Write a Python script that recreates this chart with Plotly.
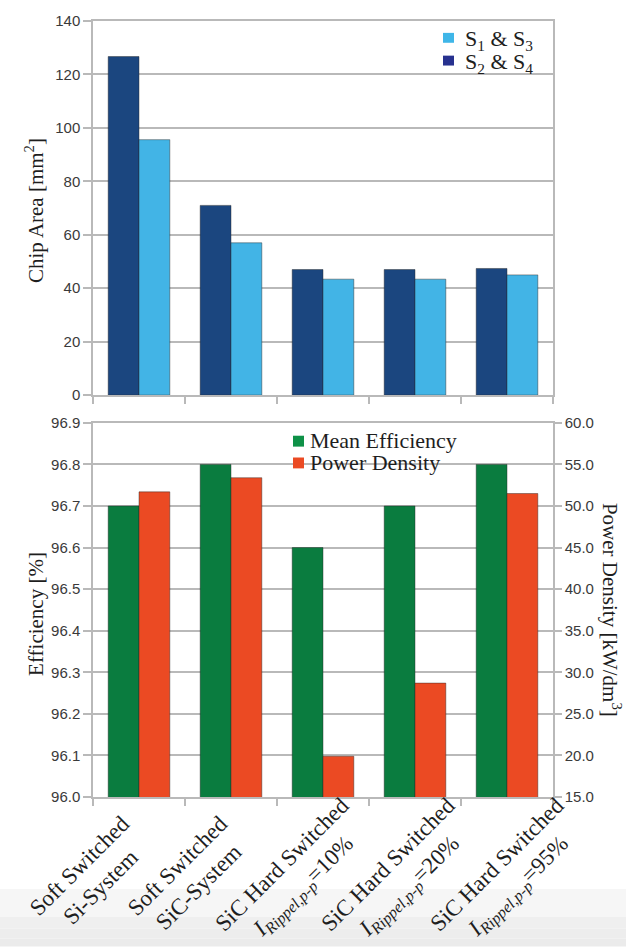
import plotly.graph_objects as go

# ---- data -------------------------------------------------------------
categories = ["Soft Si", "Soft SiC", "Hard 10", "Hard 20", "Hard 95"]
x_labels = [
    "Soft Switched<br>Si-System",
    "Soft Switched<br>SiC-System",
    "SiC Hard Switched<br><i>I</i><sub><i>Rippel,p-p</i></sub>=10%",
    "SiC Hard Switched<br><i>I</i><sub><i>Rippel,p-p</i></sub>=20%",
    "SiC Hard Switched<br><i>I</i><sub><i>Rippel,p-p</i></sub>=95%",
]
chip_area_s2_s4 = [126.7, 71.0, 47.0, 47.0, 47.4]
chip_area_s1_s3 = [95.6, 57.0, 43.4, 43.4, 45.0]
mean_efficiency = [96.7, 96.8, 96.6, 96.7, 96.8]
power_density = [51.7, 53.4, 19.9, 28.7, 51.5]

# ---- styling ----------------------------------------------------------
DARK_BLUE = "#1b467f"
LIGHT_BLUE = "#42b4e6"
GREEN = "#0a7c3f"
RED = "#eb4a23"
GRID = "#b9b9b9"
SANS = "Liberation Sans, Arial, sans-serif"
SERIF = "Liberation Serif, Times New Roman, serif"
TICK_FONT = dict(family=SANS, size=15, color="#3a3a3a")
TEXT_COLOR = "#1e1e1e"

W, H = 626, 948
ML, MR, MT, MB = 93, 73, 13, 151
PW = W - ML - MR
PH = H - MT - MB


def px_x(p):
    return (p - ML) / PW


def px_y(p):
    return (H - MB - p) / PH


top_domain = [px_y(391), 1.0]
bot_domain = [0.0, px_y(419)]

BAR_W = 0.335
bar_line = dict(width=0.8, color="rgba(40,40,40,0.55)")

fig = go.Figure()

# chip area per switch pair
fig.add_trace(go.Bar(x=categories, y=chip_area_s2_s4, xaxis="x", yaxis="y",
                     width=BAR_W, offset=-BAR_W, marker=dict(color=DARK_BLUE, line=bar_line),
                     showlegend=False))
fig.add_trace(go.Bar(x=categories, y=chip_area_s1_s3, xaxis="x", yaxis="y",
                     width=BAR_W, offset=0, marker=dict(color=LIGHT_BLUE, line=bar_line),
                     showlegend=False))

# efficiency (left axis) and power density (right axis)
fig.add_trace(go.Bar(x=categories, y=mean_efficiency, xaxis="x2", yaxis="y2",
                     width=BAR_W, offset=-BAR_W, marker=dict(color=GREEN, line=bar_line),
                     showlegend=False))
fig.add_trace(go.Bar(x=categories, y=power_density, xaxis="x2", yaxis="y3",
                     width=BAR_W, offset=0, marker=dict(color=RED, line=bar_line),
                     showlegend=False))

xaxis_common = dict(
    type="category", range=[-0.5, 4.5], tickson="boundaries", ticks="outside",
    ticklen=7, tickwidth=1.5, tickcolor=GRID, showticklabels=False,
    showline=True, linecolor=GRID, linewidth=1.5, mirror=True, showgrid=False,
)
yaxis_common = dict(
    ticks="outside", ticklen=8, tickwidth=1.5, tickcolor=GRID, tickfont=TICK_FONT,
    showline=True, linecolor=GRID, linewidth=1.5, showgrid=True, gridcolor=GRID,
    gridwidth=1.5, zeroline=False,
)

fig.update_layout(
    width=W, height=H,
    margin=dict(l=ML, r=MR, t=MT, b=MB),
    paper_bgcolor="white", plot_bgcolor="white",
    barmode="overlay", showlegend=False,
    xaxis=dict(xaxis_common, anchor="y"),
    yaxis=dict(yaxis_common, domain=top_domain, range=[0, 140], dtick=20, mirror=True),
    xaxis2=dict(xaxis_common, anchor="y2"),
    yaxis2=dict(yaxis_common, domain=bot_domain, range=[96.0, 96.9], dtick=0.1,
                tick0=96.0, tickformat=".1f"),
    yaxis3=dict(yaxis_common, overlaying="y2", side="right", anchor="x2",
                range=[15, 60], dtick=5, tick0=15, tickformat=".1f", showgrid=False, ticklen=7),
)

shapes = []
annotations = []

# soft grey band at the foot of the page
band_steps = [(890, 918, "#f6f6f6"), (918, 930, "#efefef"), (930, 940, "#ededed"), (940, 948, "#ebebeb")]
for y0, y1, col in band_steps:
    shapes.append(dict(type="rect", xref="paper", yref="paper", layer="below",
                       x0=px_x(0), x1=px_x(W), y0=px_y(y1), y1=px_y(y0),
                       line=dict(width=0), fillcolor=col))

# legend of the chip-area chart
for (y0, col, txt) in [(25, "#3fb6e8", "S<sub>1</sub> & S<sub>3</sub>"),
                       (48, "#27318f", "S<sub>2</sub> & S<sub>4</sub>")]:
    shapes.append(dict(type="rect", xref="paper", yref="paper", layer="above",
                       x0=px_x(443), x1=px_x(454), y0=px_y(y0 + 10), y1=px_y(y0),
                       line=dict(width=0), fillcolor=col))
    annotations.append(dict(xref="paper", yref="paper", x=px_x(463), y=px_y(y0 + 7),
                            xanchor="left", yanchor="middle", showarrow=False, text=txt,
                            font=dict(family=SERIF, size=22, color=TEXT_COLOR)))

# legend of the efficiency / power density chart
shapes.append(dict(type="rect", xref="paper", yref="paper", layer="between",
                   x0=px_x(283), x1=px_x(460), y0=px_y(471), y1=px_y(428),
                   line=dict(width=0), fillcolor="white"))
for (y0, col, txt) in [(432, "#0e9147", "Mean Efficiency"),
                       (454, RED, "Power Density")]:
    shapes.append(dict(type="rect", xref="paper", yref="paper", layer="above",
                       x0=px_x(293), x1=px_x(304), y0=px_y(y0 + 11), y1=px_y(y0),
                       line=dict(width=0), fillcolor=col))
    annotations.append(dict(xref="paper", yref="paper", x=px_x(308), y=px_y(y0 + 5),
                            xanchor="left", yanchor="middle", showarrow=False, text=txt,
                            font=dict(family=SERIF, size=22, color=TEXT_COLOR)))

# axis titles
annotations.append(dict(xref="paper", yref="paper", x=px_x(34), y=px_y(204),
                        textangle=-90, showarrow=False, xanchor="center", yanchor="middle",
                        text="Chip Area [mm<sup>2</sup>]",
                        font=dict(family=SERIF, size=21, color=TEXT_COLOR)))
annotations.append(dict(xref="paper", yref="paper", x=px_x(36), y=px_y(612),
                        textangle=-90, showarrow=False, xanchor="center", yanchor="middle",
                        text="Efficiency [%]",
                        font=dict(family=SERIF, size=21, color=TEXT_COLOR)))
annotations.append(dict(xref="paper", yref="paper", x=px_x(611), y=px_y(608),
                        textangle=90, showarrow=False, xanchor="center", yanchor="middle",
                        text="Power Density [kW/dm<sup>3</sup>]",
                        font=dict(family=SERIF, size=21, color=TEXT_COLOR)))

# rotated category labels under the lower chart
label_dx = [-49, -43, -29, -15, 2]
for cat, lab, dx in zip(categories, x_labels, label_dx):
    annotations.append(dict(xref="x2", yref="paper", x=cat, y=px_y(877), xshift=dx,
                            textangle=-45, showarrow=False, xanchor="center", yanchor="middle",
                            align="center", text=lab,
                            font=dict(family=SERIF, size=23, color=TEXT_COLOR)))

fig.update_layout(shapes=shapes, annotations=annotations)

fig.write_html("out.html")
